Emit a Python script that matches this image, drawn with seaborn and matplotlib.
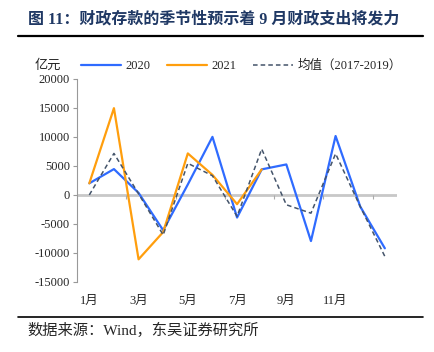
import numpy as np
import pandas as pd
import matplotlib
matplotlib.use("Agg")
import matplotlib.pyplot as plt
import seaborn as sns

# data (亿元)
months = ['1月', '', '3月', '', '5月', '', '7月', '', '9月', '', '11月', '', '']
y2020 = [2000, 4450, 350, -6100, 1800, 10000, -3900, 4400, 5250, -7950, 10150, -2000, -9200]
y2021 = [2000, 14950, -11100, -6400, 7150, 3450, -1600, 4400]
y_avg = [0, 7150, 200, -6900, 5450, 3300, -3700, 7900, -1700, -3150, 7100, -2000, -10600]
y_ticks = [-15000, -10000, -5000, 0, 5000, 10000, 15000, 20000]

sns.set_style("white")
plt.rcParams['font.family'] = ['Liberation Serif', 'Noto Sans CJK SC']
plt.rcParams['axes.unicode_minus'] = False

df20 = pd.DataFrame({'m': np.arange(len(y2020)), 'v': y2020})
df21 = pd.DataFrame({'m': np.arange(len(y2021)), 'v': y2021})
dfav = pd.DataFrame({'m': np.arange(len(y_avg)), 'v': y_avg})

fig = plt.figure(figsize=(4.35, 3.52), dpi=100)
ax = fig.add_axes([0.177, 0.199, 0.736, 0.577])

sns.lineplot(data=df20, x='m', y='v', color='#2F6BFF', lw=1.6, label='2020', ax=ax)
sns.lineplot(data=df21, x='m', y='v', color='#FF9E0D', lw=1.6, label='2021', ax=ax)
sns.lineplot(data=dfav, x='m', y='v', color='#44546A', lw=1.1, linestyle=(0, (3, 2)),
             label='均值（2017-2019）', ax=ax)

ax.set_xlim(-0.5, len(months) - 0.5)
ax.set_ylim(-15000, 20000)
ax.set_yticks(y_ticks)
ax.set_yticklabels([str(t) for t in y_ticks], fontsize=9)
ax.set_xticks(np.arange(len(months)))
ax.set_xticklabels(months, fontsize=9)
ax.tick_params(axis='x', length=0, pad=9)
ax.tick_params(axis='y', length=3, width=0.8, color='#999999', direction='out', pad=2, left=True)
ax.set_xlabel('')
ax.set_ylabel('')
for s in ['top', 'right', 'bottom']:
    ax.spines[s].set_visible(False)
ax.spines['left'].set_color('#999999')
ax.spines['left'].set_linewidth(0.8)

# zero line with category-boundary ticks
ax.axhline(0, color='#C8C8C8', lw=2, zorder=0)
sec = ax.secondary_xaxis(15000 / 35000)
sec.set_xticks(np.arange(1.5, len(months) - 1, 2))
sec.set_xticklabels([])
sec.tick_params(length=3, width=0.8, color='#AAAAAA', direction='out')
sec.spines['bottom'].set_visible(False)

leg = ax.legend(loc='center', bbox_to_anchor=(0.555, 0.8125), bbox_transform=fig.transFigure,
                ncol=3, frameon=False, fontsize=9, handlelength=3.2, handletextpad=0.4,
                columnspacing=1.3)

fig.text(0.08, 0.8125, '亿元', fontsize=9.5, va='center', ha='left')

fig.text(0.064, 0.945, '图 11：财政存款的季节性预示着 9 月财政支出将发力', fontsize=11.5,
         fontweight='bold', color='#1F3864', va='center', ha='left')
fig.add_artist(plt.Line2D([0.042, 0.972], [0.898, 0.898], color='black', lw=1.6,
                          transform=fig.transFigure))
fig.add_artist(plt.Line2D([0.042, 0.972], [0.099, 0.099], color='black', lw=1.2,
                          transform=fig.transFigure))
fig.text(0.064, 0.062, '数据来源：Wind，东吴证券研究所', fontsize=11, va='center', ha='left')

fig.savefig('out.png', dpi=100)
